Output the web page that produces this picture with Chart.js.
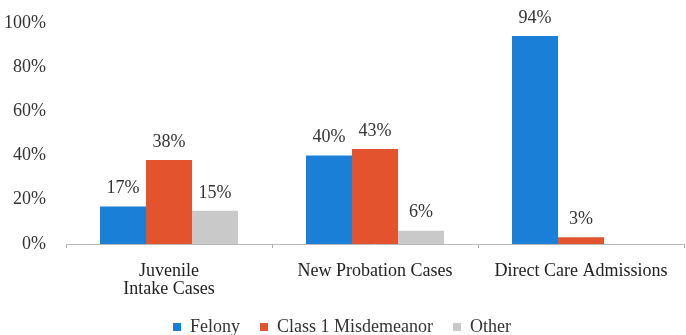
<!DOCTYPE html>
<html>
<head>
<meta charset="utf-8">
<script src="https://cdn.jsdelivr.net/npm/chart.js@4/dist/chart.umd.min.js"></script>
<style>
  html, body { margin: 0; padding: 0; background: #fff; }
  #wrap { width: 686px; height: 335px; }
</style>
</head>
<body>
<div id="wrap"><canvas id="chart"></canvas></div>
<script>
// data
const categories = [['Juvenile', 'Intake Cases'], 'New Probation Cases', 'Direct Care Admissions'];
const felony = [17, 40, 94];
const misdemeanor = [38, 43, 3];
const other = [15, 6, null];
const yTicks = [0, 20, 40, 60, 80, 100];

const FONT = '"Liberation Serif", "DejaVu Serif", serif';

// percent labels above each bar
const barLabels = {
    id: 'barLabels',
    afterDatasetsDraw(chart) {
        const ctx = chart.ctx;
        ctx.save();
        ctx.font = '18px ' + FONT;
        ctx.fillStyle = '#333';
        ctx.textAlign = 'center';
        ctx.textBaseline = 'middle';
        chart.data.datasets.forEach(function (ds, i) {
            chart.getDatasetMeta(i).data.forEach(function (bar, j) {
                if (ds.data[j] == null) return;
                ctx.fillText(ds.data[j] + '%', bar.x, bar.y - 18);
            });
        });
        ctx.restore();
    }
};

const config = {
    type: 'bar',
    data: {
        labels: categories,
        datasets: [{
            label: 'Felony',
            data: felony,
            backgroundColor: '#1a7fd6'
        }, {
            label: 'Class 1 Misdemeanor',
            data: misdemeanor,
            backgroundColor: '#e2532e'
        }, {
            label: 'Other',
            data: other,
            backgroundColor: '#c9c9c9'
        }]
    },
    options: {
        responsive: true,
        maintainAspectRatio: false,
        animation: false,
        layout: { padding: { top: -13, right: 2, left: 0, bottom: -11 } },
        datasets: { bar: { categoryPercentage: 0.67, barPercentage: 1 } },
        scales: {
            x: {
                grid: { drawOnChartArea: false, drawTicks: true, tickLength: 4, color: '#aaa' },
                border: { color: '#bbb' },
                ticks: {
                    color: '#222',
                    font: { family: FONT, size: 18, lineHeight: 1.0 },
                    padding: 14,
                    maxRotation: 0,
                    autoSkip: false
                },
                afterFit: function (axis) { axis.height = 54; }
            },
            y: {
                min: 0,
                max: 100,
                afterBuildTicks: function (axis) {
                    axis.ticks = yTicks.map(function (v) { return { value: v }; });
                },
                afterFit: function (axis) { axis.width = 66; },
                grid: { display: false },
                border: { display: false },
                ticks: {
                    color: '#333',
                    padding: 12,
                    font: { family: FONT, size: 18 },
                    callback: function (v) { return v + '%'; }
                }
            }
        },
        plugins: {
            legend: {
                position: 'bottom',
                labels: {
                    color: '#333',
                    boxWidth: 8,
                    boxHeight: 8,
                    padding: 20,
                    font: { family: FONT, size: 18 }
                }
            },
            tooltip: { enabled: false }
        }
    },
    plugins: [barLabels]
};

new Chart(document.getElementById('chart'), config);
</script>
</body>
</html>
